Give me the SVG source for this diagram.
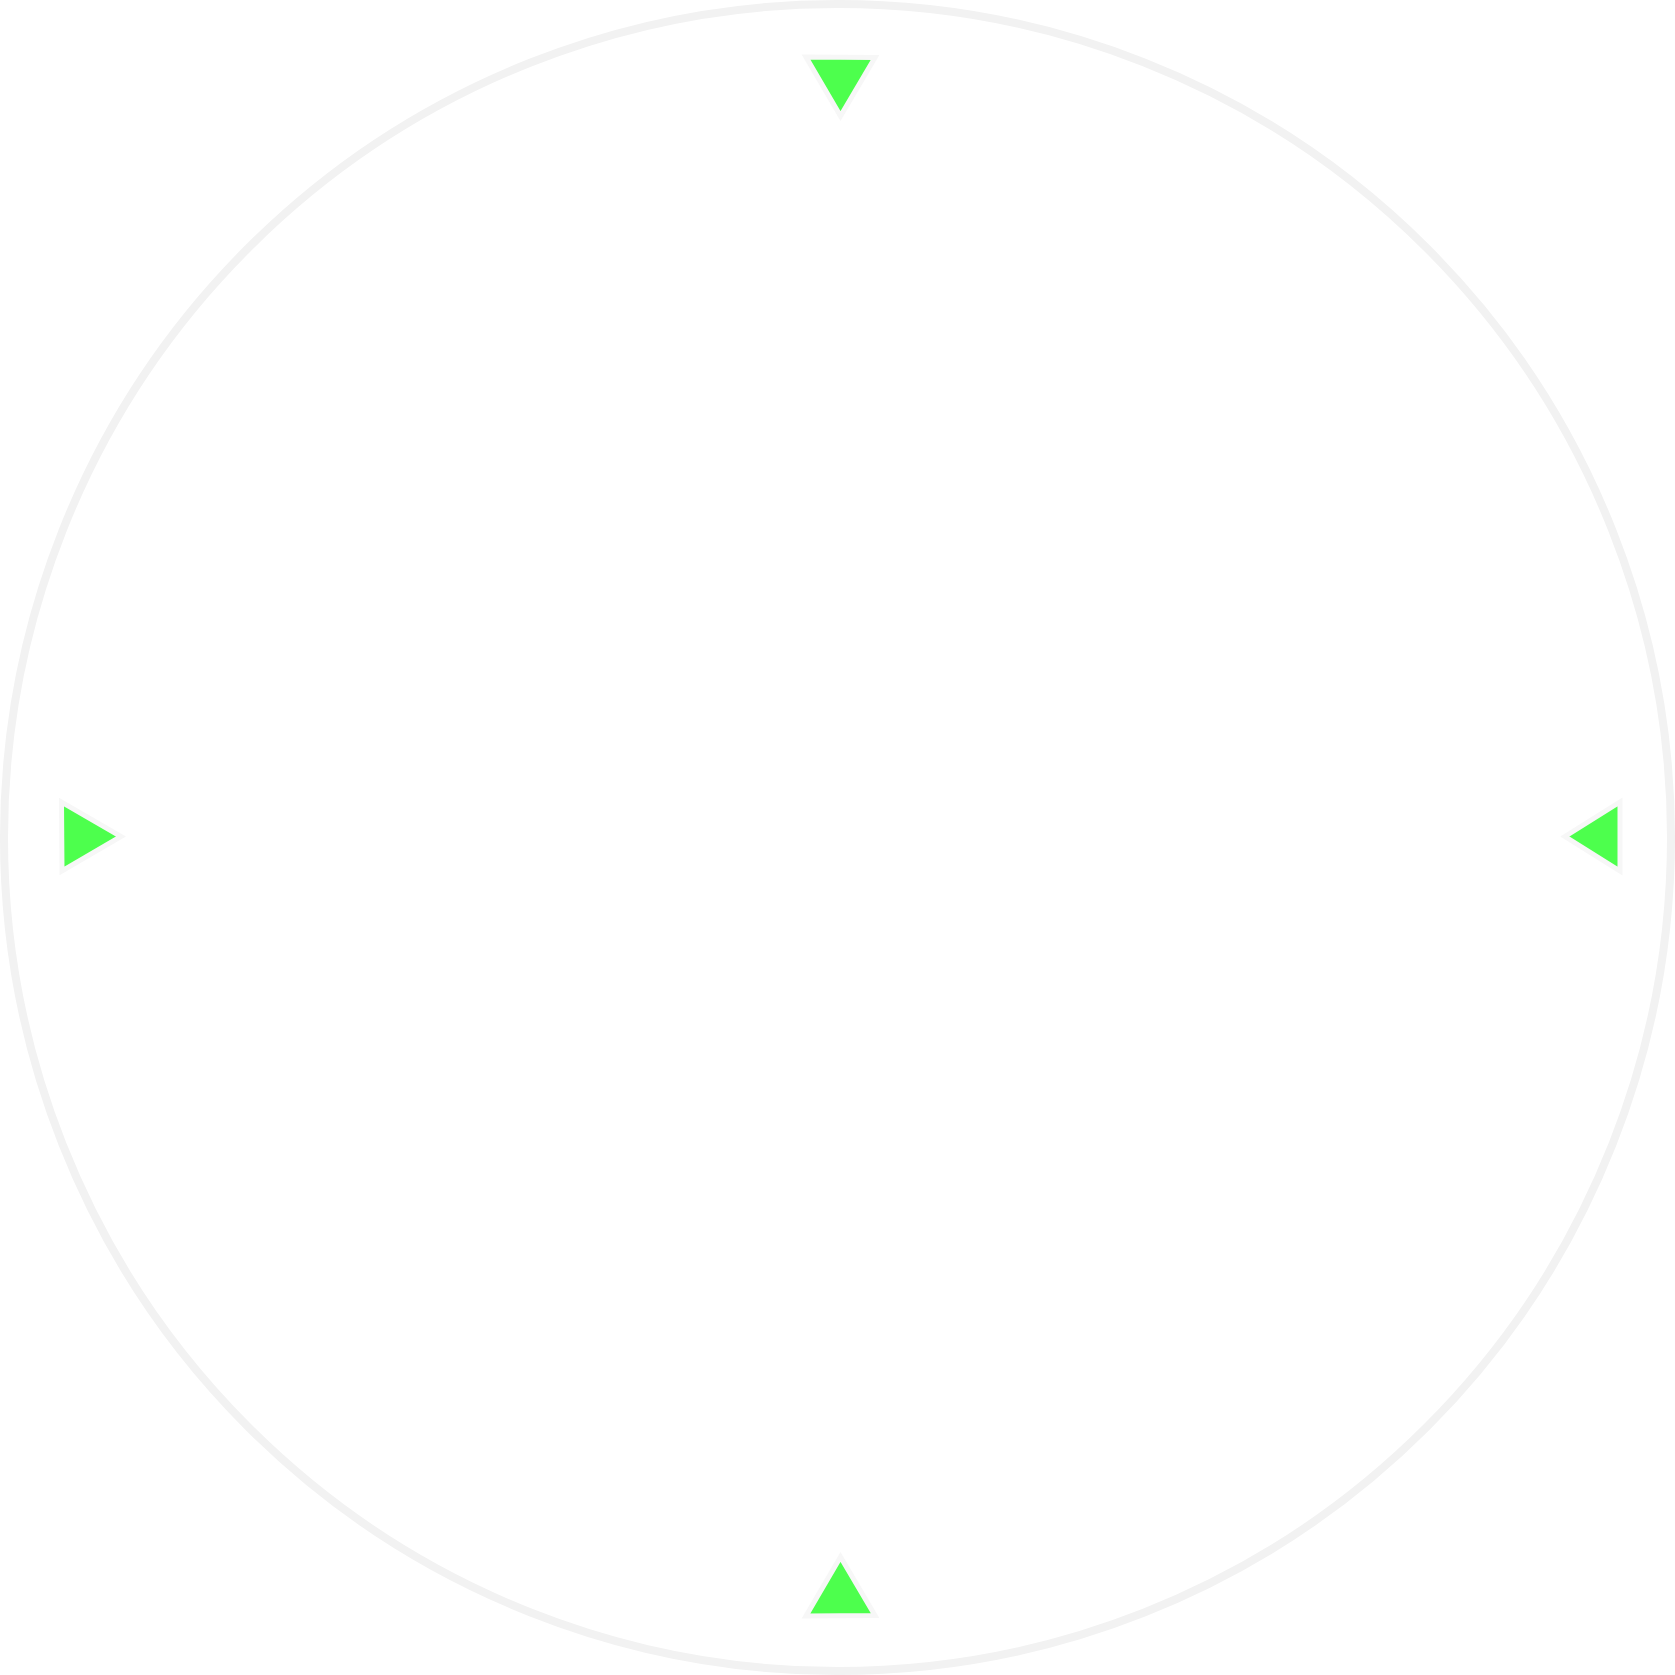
<svg xmlns="http://www.w3.org/2000/svg" width="1675" height="1675" viewBox="0 0 1675 1675">
<style>
.ring{fill:#ffffff;stroke:#f2f2f2;stroke-width:8}
.mark{fill:#4dff4d;stroke:#f7f7f7;stroke-width:5;stroke-linejoin:miter}
</style>
<rect width="1675" height="1675" fill="#ffffff"/>
<g id="dial"><circle class="ring" cx="837.5" cy="837.5" r="833.5"/></g>
<g id="mark-top"><polygon class="mark" points="806,57 875,57.5 840.5,116"/></g>
<g id="mark-left"><polygon class="mark" points="61.5,802 62,871 121,836.5"/></g>
<g id="mark-right"><polygon class="mark" points="1620,802 1620,871 1565,836.5"/></g>
<g id="mark-bottom"><polygon class="mark" points="840.5,1557 806,1616 875,1615.5"/></g>
<g id="connectors"></g>
</svg>
